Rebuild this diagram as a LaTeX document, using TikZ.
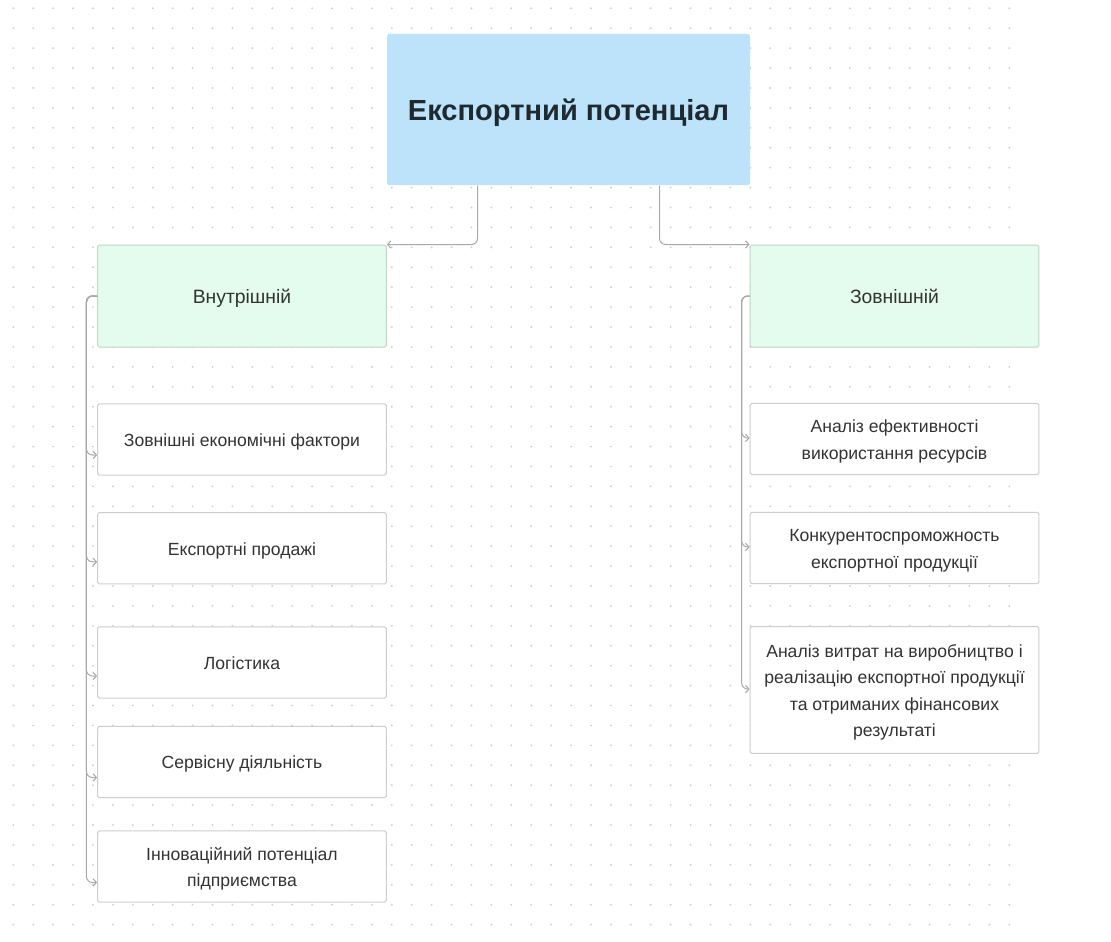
\documentclass[tikz,border=0pt]{standalone}
\usepackage{fontspec}
\setmainfont{Liberation Sans}
\usetikzlibrary{arrows.meta,calc}
\definecolor{dotc}{RGB}{208,208,208}
\definecolor{topfill}{RGB}{189,227,251}
\definecolor{grfill}{RGB}{228,252,237}
\definecolor{grbord}{RGB}{192,214,199}
\definecolor{bxbord}{RGB}{206,206,206}
\definecolor{conc}{RGB}{168,168,168}
\definecolor{txt}{RGB}{51,51,51}
\definecolor{ttl}{RGB}{31,41,48}
\newcommand\mlstrut{\rule{0pt}{14pt}}
\tikzset{
  base/.style={rectangle, rounded corners=1.2pt, inner sep=0pt, align=center, line width=0.75pt, text=txt,
    font=\fontsize{13.2pt}{19.5pt}\selectfont,
    execute at begin node={\rule{0pt}{14pt}},
    execute at end node={\rule[-3.6pt]{0pt}{0pt}}},
  topbox/.style={base, fill=topfill, minimum width=272.25pt, minimum height=113.25pt, text=ttl,
    font=\fontsize{21.8pt}{24pt}\selectfont\bfseries,
    execute at begin node={\rule{0pt}{23pt}},
    execute at end node={\rule[-6.5pt]{0pt}{0pt}}},
  grbox/.style={base, draw=grbord, fill=grfill, minimum width=216.5pt, minimum height=76.5pt,
    font=\fontsize{14.5pt}{19.5pt}\selectfont,
    execute at begin node={\rule{0pt}{15pt}},
    execute at end node={\rule[-4pt]{0pt}{0pt}}},
  wbox/.style={base, draw=bxbord, fill=white, minimum width=216.5pt, minimum height=53.5pt},
  mline/.style={font=\fontsize{13.2pt}{19.9pt}\selectfont},
  conn/.style={draw=conc, line width=0.75pt, rounded corners=4.5pt, -{Straight Barb[length=2.6pt,width=5.5pt]}}
}
\begin{document}
\begin{tikzpicture}[x=0.75pt,y=-0.75pt]
\useasboundingbox (0,0) rectangle (1111,942);
\fill[white] (0,0) rectangle (1111,942);
\foreach \i in {0,...,50}{
  \foreach \j in {0,...,46}{
    \fill[dotc] ({13.3+\i*19.92},{8.3+\j*19.92}) circle (1.05);
  }
}
\node[topbox] (top) at (568.5,109.5) {Експортний потенціал};
\node[grbox] (gl) at (242,296) {Внутрішній};
\node[grbox] (gr) at (894.5,296) {Зовнішній};

\node[wbox] (l1) at (242,439.5) {Зовнішні економічні фактори};
\node[wbox] (l2) at (242,548.3) {Експортні продажі};
\node[wbox] (l3) at (242,662.5) {Логістика};
\node[wbox] (l4) at (242,762) {Сервісну діяльність};
\node[wbox, mline] (l5) at (242,866.5) {\mlstrut Інноваційний потенціал\\підприємства};

\node[wbox, mline] (r1) at (894.5,439) {\mlstrut Аналіз ефективності\\використання ресурсів};
\node[wbox, mline] (r2) at (894.5,548) {\mlstrut Конкурентоспроможность\\експортної продукції};
\node[wbox, mline, minimum height=95pt] (r3) at (894.5,690) {\mlstrut Аналіз витрат на виробництво і\\реалізацію експортної продукції\\та отриманих фінансових\\результаті};

\draw[conn] ($(top.south west)!0.25!(top.south east)$) |- (gl.north east);
\draw[conn] ($(top.south west)!0.75!(top.south east)$) |- (gr.north west);

\foreach \b/\d in {l1/15.5,l2/13.5,l3/13.5,l4/15.5,l5/16}{
  \draw[conn] (gl.west) -- ++(-10.7,0) |- ($(\b.west)+(0,\d)$);
}
\foreach \b in {r1,r2,r3}{
  \draw[conn] (gr.west) -- ++(-8,0) |- ($(\b.west)+(0,-1)$);
}
\end{tikzpicture}
\end{document}
